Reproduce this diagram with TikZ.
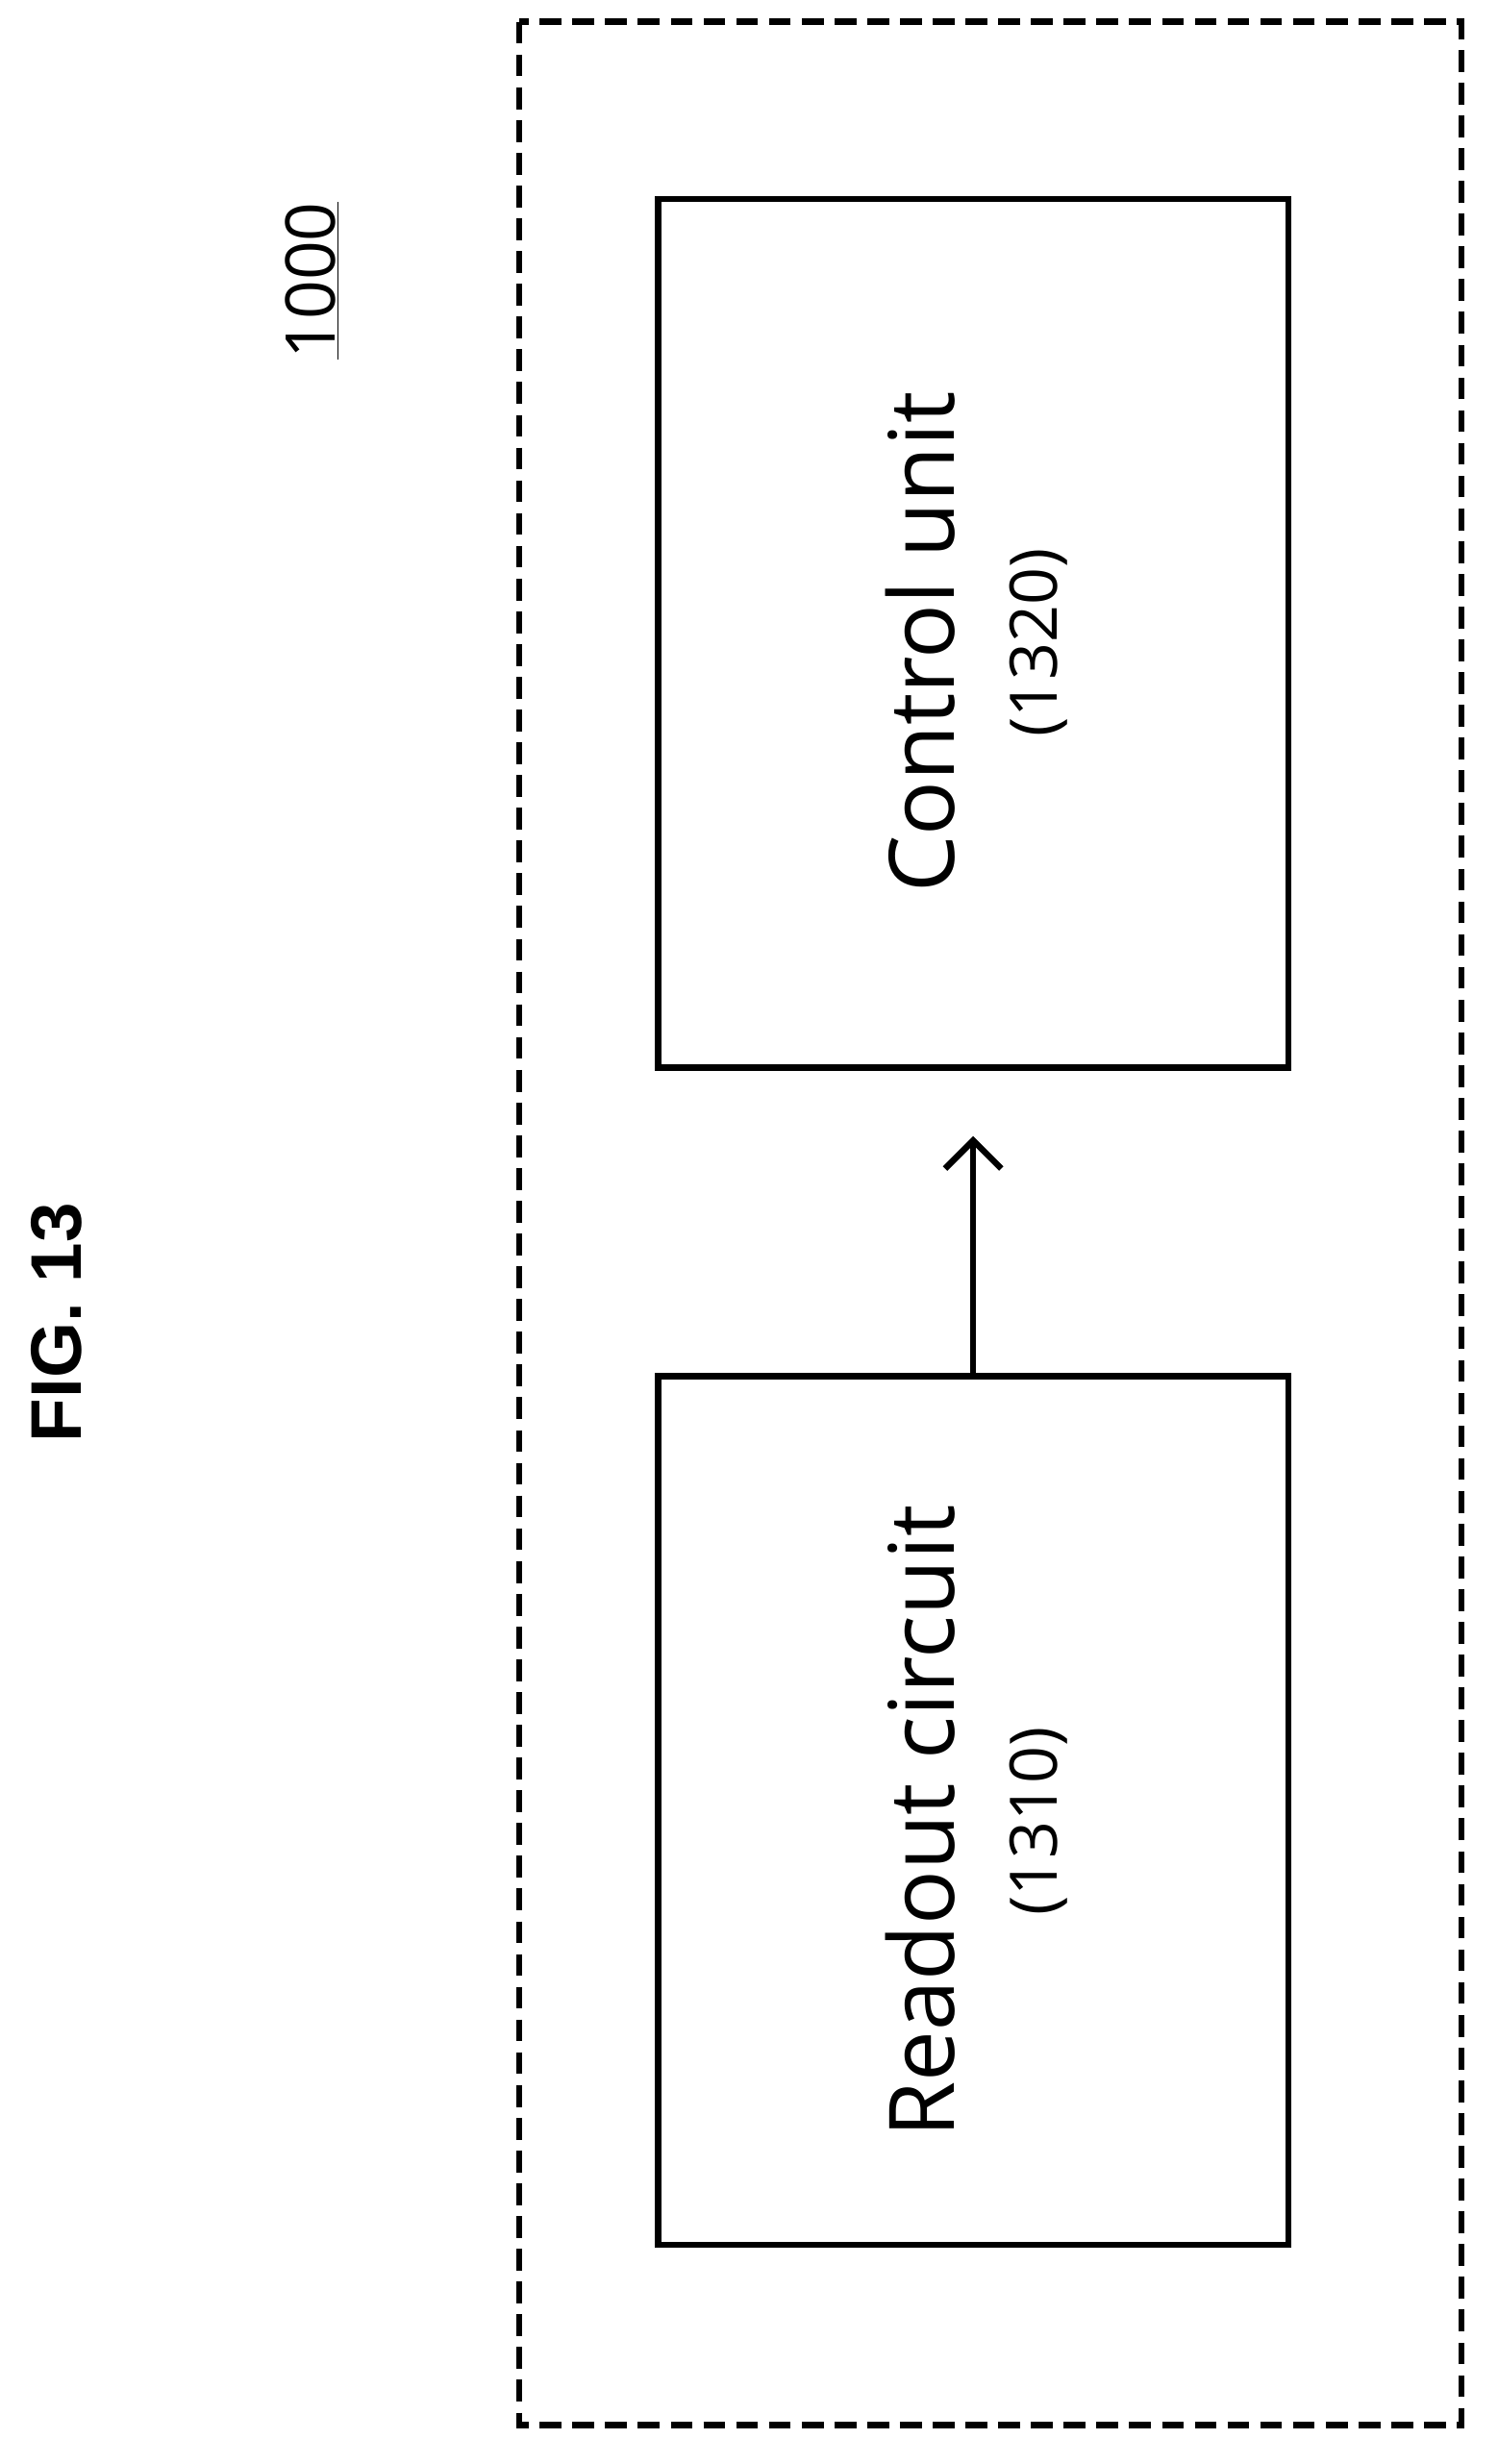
\documentclass[tikz,border=0pt]{standalone}
\usepackage{fontspec}
\setmainfont{Open Sans}
\newfontfamily\figfont{Liberation Sans}
\usetikzlibrary{arrows.meta}
\begin{document}
\begin{tikzpicture}[x=1pt,y=-1pt,
  blk/.style={draw,line width=4pt,minimum width=404pt,minimum height=557pt,inner sep=0pt},
  main/.style={font=\fontsize{58}{68}\selectfont,rotate=90},
  sub/.style={font=\fontsize{42}{50}\selectfont,rotate=90}]
\useasboundingbox (0,0) rectangle (960,1580);
\draw[line width=4pt,dash pattern=on 14pt off 7pt] (333,14) rectangle (937,1555);
\node[blk] (ctl) at (624,406) {};
\node[blk] (ro) at (624,1161) {};
\node[main] (ctlt) at (590,412) {Control unit};
\node[sub] (ctln) at (666,412) {(1320)};
\node[main] (rot) at (590,1168) {Readout circuit};
\node[sub] (ron) at (666,1168) {(1310)};
\draw[line width=4pt,-{Straight Barb[length=18pt,width=36pt,line width=4pt]}] (ro.north) -- ([yshift=-42pt]ctl.south);
\node[rotate=90,font=\figfont\bfseries\fontsize{46}{54}\selectfont] (fig) at (36,848) {FIG. 13};
\node[rotate=90,font=\fontsize{44}{52}\selectfont] (ref) at (200,180) {\underline{1000}};
\end{tikzpicture}
\end{document}
